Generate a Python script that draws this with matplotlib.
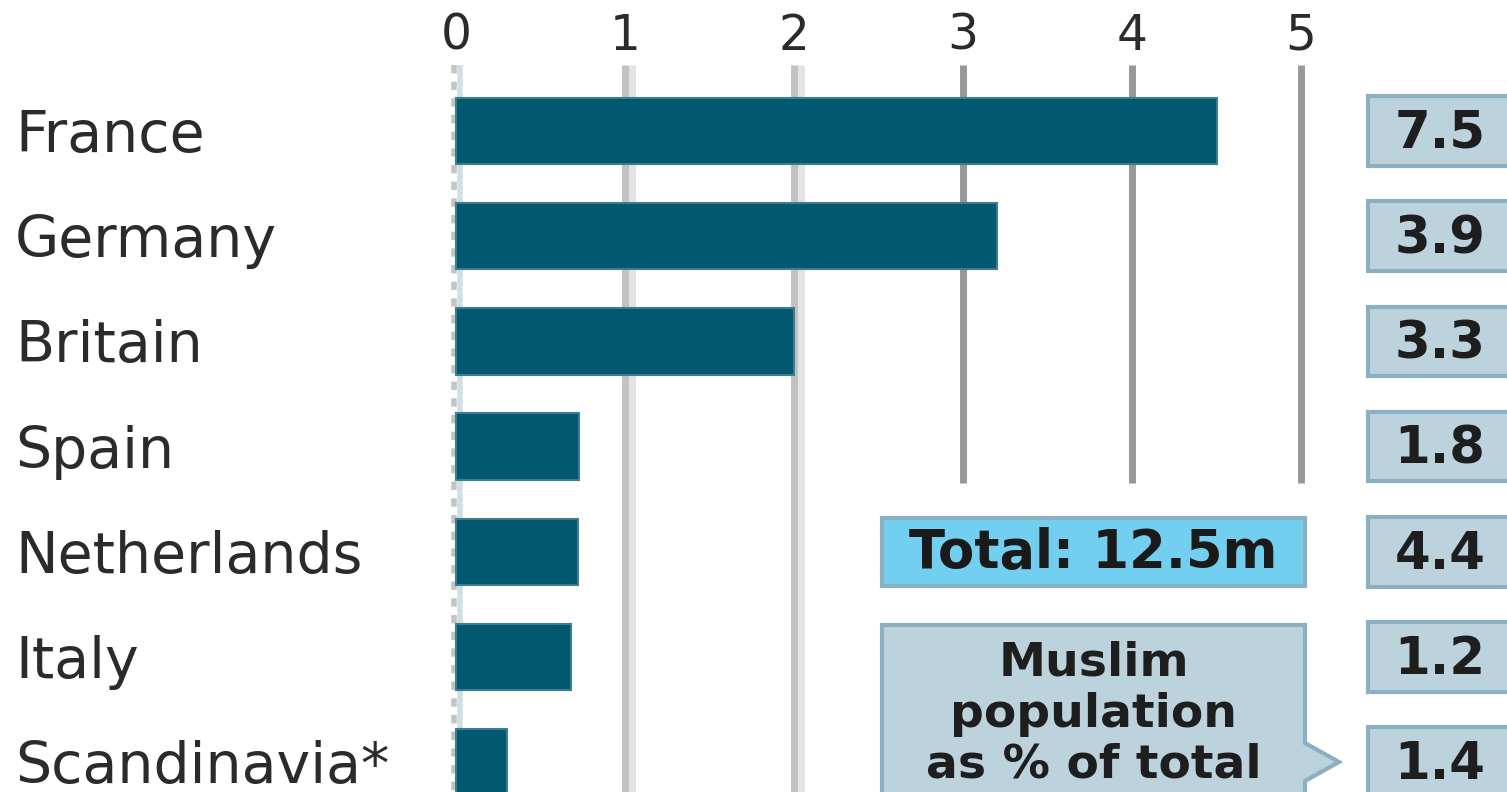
import matplotlib
matplotlib.use("Agg")
import matplotlib.pyplot as plt
from matplotlib.patches import Rectangle, Polygon

countries = ["France", "Germany", "Britain", "Spain", "Netherlands", "Italy", "Scandinavia*"]
muslims_m = [4.5, 3.2, 2.0, 0.73, 0.72, 0.68, 0.3]   # millions
share_pct = ["7.5", "3.9", "3.3", "1.8", "4.4", "1.2", "1.4"]
ticks = [0, 1, 2, 3, 4, 5]
total_label = "Total: 12.5m"
key_lines = ["Muslim", "population", "as % of total"]

BAR = "#02586f"
BOX = "#bcd3de"
BOX_EDGE = "#8ab0c2"
TOTAL_FILL = "#72cff0"
TEXT = "#2b2b2b"

# pixel -> data helpers (169 px per million, rows 105.2 px apart)
W, H = 1507, 792
X0, XS = 456, 169.0
Y0, YS = 131, 105.2

def px(x):
    return (x - X0) / XS

def py(y):
    return (y - Y0) / YS

fig = plt.figure(figsize=(W / 100, H / 100), dpi=100)
ax = fig.add_axes([0, 0, 1, 1])
ax.set_xlim(px(0), px(W))
ax.set_ylim(py(H), py(0))
ax.axis("off")

# gridlines
top = py(65)
for t in ticks:
    if t == 0:
        ax.vlines(t + 3.5 / XS, top, py(H), color="#cfdfe5", lw=4, zorder=1)
        ax.vlines(t - 2 / XS, top, py(H), color="#c4c4c4", lw=4, linestyles=(0, (1.5, 1.5)), zorder=1)
    elif t <= 2:
        ax.vlines(t, top, py(H), color="#c2c2c2", lw=5, zorder=1)
        ax.vlines(t + 7 / XS, top, py(H), color="#e3e3e3", lw=5, zorder=1)
    else:
        ax.vlines(t, top, py(483), color="#96999c", lw=5, zorder=1)
    ax.text(t, py(50), str(t), ha="center", va="baseline", fontsize=35,
            color=TEXT)

rows = list(range(len(countries)))
ax.barh(rows, muslims_m, height=0.63, color=BAR, edgecolor="#3c7d8f", lw=1.5, zorder=2)

for i, (name, pct) in enumerate(zip(countries, share_pct)):
    ax.text(px(15), i + 21 / YS, name, ha="left", va="baseline", fontsize=41, color=TEXT)
    ax.add_patch(Rectangle((px(1368), i - 0.33), px(1530) - px(1368), 0.66,
                           facecolor=BOX, edgecolor=BOX_EDGE, lw=3, zorder=3))
    ax.text(px(1440), i + 17 / YS, pct, ha="center", va="baseline", fontsize=37,
            fontweight="bold", color="#1e1e1e", zorder=4)

# total callout
bx0, bx1 = px(882), px(1305)
ax.add_patch(Rectangle((bx0, py(518)), bx1 - bx0, py(586) - py(518),
                       facecolor=TOTAL_FILL, edgecolor=BOX_EDGE, lw=3, zorder=3))
ax.text((bx0 + bx1) / 2, py(568), total_label, ha="center", va="baseline",
        fontsize=38, fontweight="bold", color="#1a1a1a", zorder=4)

# key box pointing at the percentage column
key = Polygon([(bx0, py(625)), (bx1, py(625)), (bx1, py(743)), (px(1339), py(762)),
               (bx1, py(781)), (bx1, py(H + 20)), (bx0, py(H + 20))],
              closed=True, facecolor=BOX, edgecolor=BOX_EDGE, lw=3, zorder=3)
ax.add_patch(key)
for line, base in zip(key_lines, [675, 727, 777]):
    ax.text((bx0 + bx1) / 2, py(base), line, ha="center", va="baseline",
            fontsize=34, fontweight="bold", color="#1e1e1e", zorder=4)

fig.savefig("out.png", dpi=100)
